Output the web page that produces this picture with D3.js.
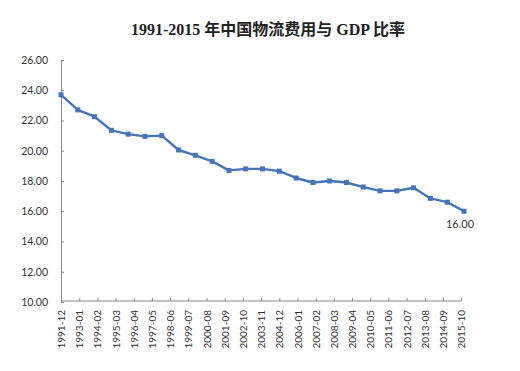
<!DOCTYPE html>
<html>
<head>
<meta charset="utf-8">
<script src="https://cdn.jsdelivr.net/npm/d3@7"></script>
<style>
  body { margin: 0; background: #fff; }
  svg { display: block; }
</style>
</head>
<body>
<svg id="chart" width="520" height="371"></svg>
<script>
// data (one point per year, placed at December)
var years = [1991,1992,1993,1994,1995,1996,1997,1998,1999,2000,2001,2002,2003,2004,2005,2006,2007,2008,2009,2010,2011,2012,2013,2014,2015];
var ratio = [23.7,22.7,22.25,21.35,21.1,20.95,21.0,20.05,19.7,19.3,18.7,18.8,18.8,18.65,18.2,17.9,18.0,17.9,17.6,17.35,17.35,17.55,16.85,16.6,16.0];
var yTicks = [10,12,14,16,18,20,22,24,26];
var titleText = "1991-2015 年中国物流费用与 GDP 比率";

var svg = d3.select("#chart");
// note: "top" is taken by window.top, so plot edges get their own names
var plotLeft = 61, plotRight = 464, plotTop = 60, plotBottom = 302;
var blue = "#4575b8";
var labelFont = "Lato, 'Open Sans', sans-serif";

var data = years.map(function(y, i){ return {date: new Date(y, 11, 1), value: ratio[i]}; });

var xScale = d3.scaleTime()
    .domain([new Date(1991, 11, 1), new Date(2015, 11, 1)])
    .range([plotLeft, plotRight]);

var yScale = d3.scaleLinear()
    .domain([10, 26])
    .range([plotBottom, plotTop]);

// ticks every 13 months starting 1991-12 (like the excel date axis)
var xTickDates = d3.timeMonth.every(1).range(new Date(1991, 11, 1), new Date(2015, 11, 2))
    .filter(function(d, i){ return i % 13 === 0; });

// title
svg.append("text")
    .attr("x", 268).attr("y", 35)
    .attr("text-anchor", "middle")
    .attr("font-family", "'Liberation Serif', 'Noto Sans CJK SC', serif")
    .attr("font-weight", "bold")
    .attr("font-size", 16)
    .attr("fill", "#222")
    .text(titleText);

// y axis
var yAxis = d3.axisLeft(yScale)
    .tickValues(yTicks)
    .tickFormat(d3.format(".2f"))
    .tickSizeInner(-3).tickSizeOuter(0).tickPadding(13);

var gy = svg.append("g").attr("transform", "translate(" + plotLeft + ",0)").call(yAxis);
gy.select(".domain").attr("stroke", "#8a8a8a");
gy.selectAll(".tick line").attr("stroke", "#8a8a8a");
gy.selectAll(".tick text")
    .attr("font-family", labelFont).attr("font-size", 10.5).attr("fill", "#333");

// x axis
var xAxis = d3.axisBottom(xScale)
    .tickValues(xTickDates)
    .tickFormat(d3.timeFormat("%Y-%m"))
    .tickSizeInner(-3).tickSizeOuter(0);

var gx = svg.append("g").attr("transform", "translate(0," + (plotBottom - 1) + ")").call(xAxis);
gx.select(".domain").attr("stroke", "#8a8a8a")
    .attr("d", "M" + plotLeft + ",0H" + xScale(xTickDates[xTickDates.length - 1]));
gx.selectAll(".tick line").attr("stroke", "#8a8a8a");
gx.selectAll(".tick text")
    .attr("font-family", labelFont).attr("font-size", 10).attr("fill", "#333")
    .attr("text-anchor", "end")
    .attr("dy", "0.35em")
    .attr("transform", "translate(0,9) rotate(-90)")
    .attr("x", 0).attr("y", 0);

// line
var line = d3.line()
    .x(function(d){ return xScale(d.date); })
    .y(function(d){ return yScale(d.value); });

svg.append("path")
    .datum(data)
    .attr("fill", "none")
    .attr("stroke", blue)
    .attr("stroke-width", 2.4)
    .attr("stroke-linejoin", "round")
    .attr("d", line);

svg.selectAll("rect.marker")
    .data(data)
    .join("rect")
    .attr("class", "marker")
    .attr("x", function(d){ return xScale(d.date) - 2.5; })
    .attr("y", function(d){ return yScale(d.value) - 2.5; })
    .attr("width", 5).attr("height", 5)
    .attr("fill", blue);

// label of last point
var last = data[data.length - 1];
svg.append("text")
    .attr("x", xScale(last.date) - 4)
    .attr("y", yScale(last.value) + 17)
    .attr("text-anchor", "middle")
    .attr("font-family", labelFont).attr("font-size", 11).attr("fill", "#333")
    .text(d3.format(".2f")(last.value));
</script>
</body>
</html>
